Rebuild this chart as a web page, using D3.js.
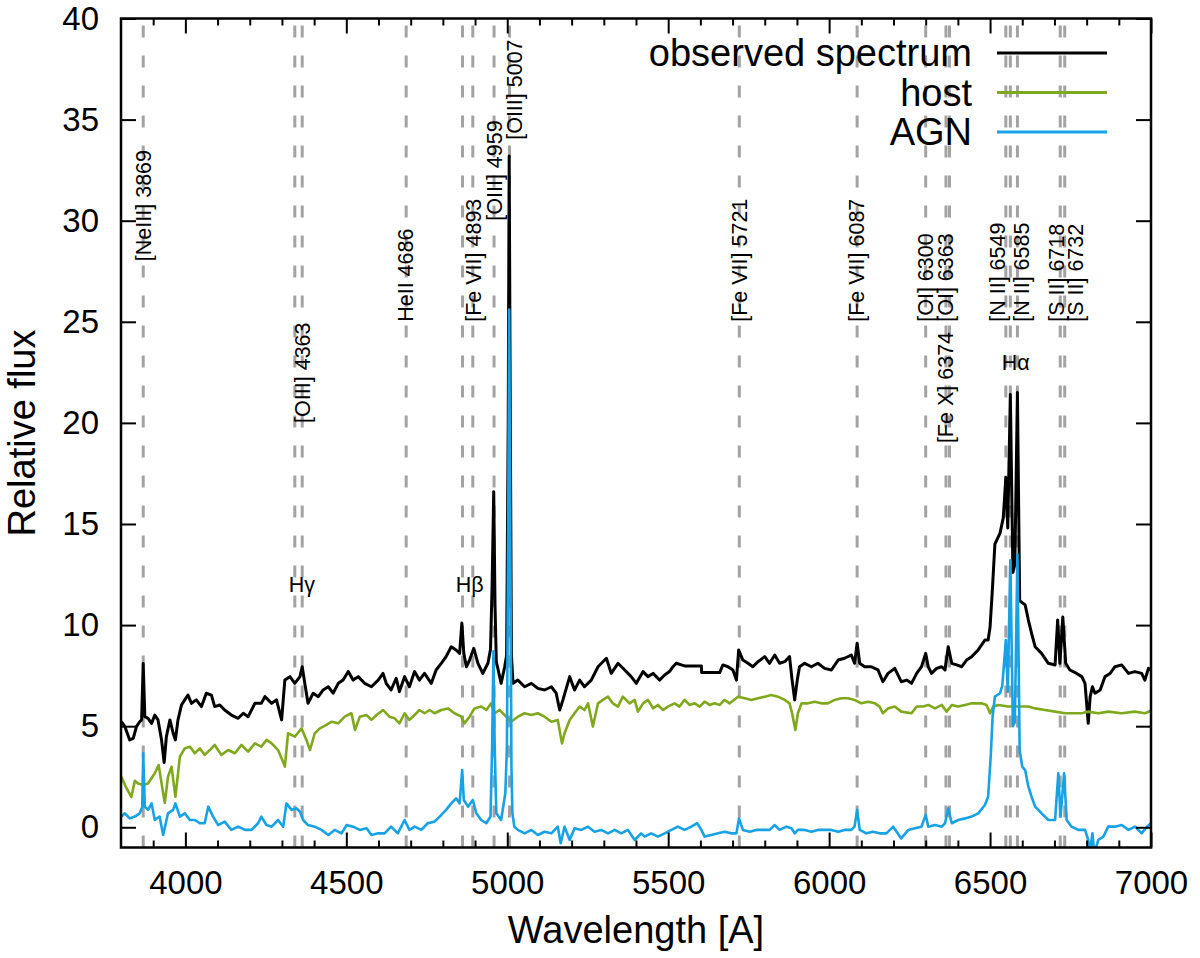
<!DOCTYPE html>
<meta charset="utf-8">

<style>

body {
  margin: 0;
  background: #fff;
}

text {
  font-family: "Liberation Sans", Arial, Helvetica, sans-serif;
}

.axis line {
  stroke: black;
  stroke-width: 2px;
}

.axis path {
  display: none;
}

.axis text {
  font-size: 33px;
  fill: black;
}

.marker {
  stroke: #a3a3a3;
  stroke-width: 3px;
  stroke-dasharray: 12,18;
}

.spec {
  fill: none;
  stroke-linejoin: round;
}

.linelabel {
  font-size: 21.5px;
}

</style>

<body>

<!-- load the d3.js library -->
<script src="https://d3js.org/d3.v7.min.js"></script>

<script>

// spectra: [wavelength (A), relative flux]
var obsSpectrum = [
  [3801,5.22],[3812,4.98],[3827,4.32],[3838,4.40],[3848,4.98],[3858,5.22],[3864,5.31],[3869,8.1],[3874,5.47],
  [3884,5.39],[3895,5.14],[3905,5.55],[3915,5.31],[3926,4.32],[3934,3.2],[3941,4.48],[3952,5.31],[3962,4.65],
  [3969,4.32],[3977,5.31],[3988,6.05],[3998,6.30],[4008,6.54],[4019,6.13],[4034,6.30],[4050,5.97],[4065,6.63],
  [4081,6.54],[4091,5.97],[4107,6.05],[4122,5.80],[4143,5.55],[4164,5.39],[4180,5.64],[4195,5.47],[4216,6.13],
  [4236,6.13],[4247,6.46],[4268,6.13],[4283,6.30],[4299,5.31],[4309,7.28],[4325,7.45],[4340,7.12],[4356,7.45],
  [4363,7.94],[4371,7.12],[4381,6.13],[4397,6.63],[4413,6.46],[4428,6.79],[4444,6.95],[4459,6.63],[4475,7.12],
  [4490,7.28],[4506,7.70],[4521,7.28],[4537,7.45],[4557,7.12],[4578,6.95],[4599,7.28],[4614,7.61],[4624,7.12],
  [4639,6.79],[4655,7.37],[4665,6.71],[4681,7.45],[4696,6.95],[4712,7.70],[4727,7.28],[4743,7.61],[4764,7.12],
  [4779,7.78],[4795,8.11],[4810,8.44],[4826,8.93],[4841,8.77],[4852,8.60],[4859,10.1],[4865,8.60],[4873,7.94],
  [4883,8.27],[4896,8.85],[4909,8.11],[4924,7.61],[4940,8.11],[4948,8.8],[4953,12],[4958,16.6],[4962,11],
  [4966,8.2],[4981,7.12],[4992,7.94],[4998,8.5],[5003,20],[5006,33.2],[5009,22],[5013,8.5],[5018,7.12],
  [5033,7.28],[5054,6.95],[5075,7.12],[5095,6.87],[5116,6.79],[5137,6.95],[5152,6.63],[5163,5.80],[5173,6.30],
  [5194,7.45],[5209,6.79],[5225,7.28],[5240,6.95],[5261,7.28],[5282,7.94],[5308,8.36],[5323,7.61],[5344,8.11],
  [5365,7.78],[5385,7.45],[5401,7.12],[5422,7.70],[5437,7.45],[5453,7.61],[5473,7.28],[5489,7.53],[5504,7.70],
  [5515,7.94],[5525,8.11],[5541,8.03],[5551,7.98],[5603,7.98],[5604,7.65],[5660,7.65],[5670,8.03],[5686,7.94],
  [5701,7.78],[5712,7.28],[5719,8.77],[5732,8.27],[5748,8.11],[5763,7.94],[5779,8.19],[5800,8.44],[5815,8.11],
  [5831,8.52],[5846,8.11],[5862,8.19],[5877,8.44],[5885,7.28],[5893,6.30],[5901,7.28],[5908,7.94],[5924,8.11],
  [5945,7.94],[5965,8.11],[5986,7.86],[6007,7.78],[6028,8.27],[6048,8.36],[6069,8.52],[6079,8.11],[6087,9.10],
  [6095,8.11],[6110,7.94],[6131,7.94],[6152,7.78],[6167,7.20],[6183,7.61],[6204,7.86],[6224,7.20],[6241,7.28],
  [6256,7.12],[6272,7.61],[6287,7.94],[6300,8.60],[6308,7.94],[6318,7.61],[6334,7.86],[6350,7.94],[6360,7.78],
  [6370,8.93],[6381,8.11],[6396,8.03],[6412,7.94],[6427,8.27],[6443,8.44],[6463,8.77],[6484,9.26],[6494,9.26],
  [6500,9.9],[6507,11.7],[6515,14.0],[6531,14.55],[6541,15.3],[6549,17.3],[6555,14.8],[6563,21.4],[6571,12.6],
  [6577,13.0],[6585,21.5],[6592,11.2],[6609,11.0],[6619,10.25],[6629,9.59],[6640,8.93],[6660,8.60],[6681,8.11],
  [6702,8.03],[6710,10.25],[6717,8.11],[6726,10.4],[6735,8.11],[6748,7.78],[6769,7.61],[6785,7.45],[6795,7.12],
  [6805,5.14],[6811,6.46],[6818,6.95],[6826,6.63],[6842,6.79],[6857,7.45],[6873,7.61],[6888,7.94],[6909,8.03],
  [6930,7.61],[6950,7.70],[6971,7.61],[6981,7.28],[6992,7.86],[7000,7.78]
];

var hostSpectrum = [
  [3801,2.5],[3815,2.0],[3832,1.5],[3843,2.3],[3853,2.17],[3869,2.09],[3884,2.17],[3905,2.67],[3917,3.08],
  [3926,2.17],[3936,1.2],[3946,2.5],[3957,3.0],[3969,1.51],[3983,3.49],[3998,3.90],[4014,3.99],[4029,3.66],
  [4045,3.90],[4060,3.58],[4076,3.82],[4091,4.07],[4112,3.58],[4133,3.82],[4154,3.66],[4174,4.07],[4195,3.74],
  [4216,4.15],[4236,3.99],[4252,4.32],[4268,4.15],[4288,3.82],[4301,3.33],[4309,3.00],[4319,4.65],[4340,4.48],
  [4361,4.89],[4376,4.32],[4387,3.82],[4402,4.65],[4418,4.89],[4438,5.06],[4454,5.22],[4475,5.14],[4495,5.47],
  [4516,5.64],[4527,4.81],[4542,5.47],[4563,5.55],[4578,5.31],[4594,5.55],[4614,5.80],[4619,5.72],[4634,5.47],
  [4650,5.39],[4665,5.14],[4681,5.64],[4696,5.31],[4712,5.55],[4727,5.80],[4743,5.64],[4759,5.80],[4774,5.64],
  [4795,5.80],[4816,5.88],[4836,5.64],[4857,5.47],[4867,5.14],[4883,5.47],[4898,5.88],[4919,5.97],[4935,5.80],
  [4950,6.13],[4961,5.64],[4976,5.80],[4992,5.55],[5012,5.22],[5033,5.47],[5054,5.64],[5075,5.55],[5095,5.64],
  [5116,5.47],[5137,5.22],[5157,5.31],[5170,4.15],[5178,4.65],[5194,5.31],[5209,5.64],[5225,5.97],[5240,5.80],
  [5251,6.13],[5266,4.98],[5282,6.13],[5297,6.30],[5313,6.46],[5328,6.13],[5344,5.97],[5359,6.46],[5380,6.13],
  [5396,6.30],[5406,5.72],[5422,6.13],[5437,6.30],[5453,5.88],[5468,6.05],[5484,5.80],[5499,5.97],[5520,6.13],
  [5535,5.97],[5551,6.30],[5567,6.05],[5582,6.13],[5598,5.97],[5613,6.21],[5629,6.05],[5644,6.13],[5660,6.05],
  [5675,6.30],[5691,6.13],[5717,6.46],[5738,6.38],[5758,6.30],[5779,6.38],[5800,6.46],[5820,6.54],[5841,6.46],
  [5862,6.30],[5877,6.13],[5885,5.64],[5895,4.81],[5903,5.64],[5914,6.13],[5934,6.13],[5955,6.21],[5976,6.13],
  [5996,6.13],[6017,6.30],[6038,6.38],[6059,6.38],[6079,6.30],[6100,6.13],[6121,6.21],[6142,6.13],[6157,5.97],
  [6167,5.64],[6183,5.88],[6204,5.97],[6224,5.72],[6256,5.64],[6272,5.97],[6292,5.97],[6308,6.05],[6329,5.88],
  [6350,6.05],[6365,5.72],[6381,6.05],[6401,5.97],[6422,6.05],[6443,6.13],[6474,6.13],[6489,6.05],[6500,5.64],
  [6510,5.97],[6526,6.05],[6557,5.97],[6588,5.97],[6619,5.97],[6640,5.88],[6671,5.80],[6702,5.72],[6733,5.64],
  [6764,5.64],[6785,5.64],[6805,5.72],[6836,5.64],[6867,5.72],[6909,5.64],[6950,5.72],[6981,5.64],[7000,5.76]
];

var agnSpectrum = [
  [3801,0.53],[3812,0.69],[3827,0.44],[3843,0.53],[3858,0.69],[3866,1.0],[3869,3.66],[3874,1.02],[3884,0.86],
  [3895,1.18],[3905,0.36],[3920,0.53],[3931,-0.38],[3946,0.69],[3962,0.86],[3969,1.18],[3983,0.53],[3998,0.69],
  [4014,0.36],[4029,0.36],[4045,0.20],[4060,0.20],[4071,1.02],[4086,0.53],[4102,0.11],[4122,0.28],[4143,-0.13],
  [4164,0.03],[4185,-0.13],[4205,-0.13],[4226,0.20],[4236,0.53],[4252,0.11],[4268,0.03],[4288,0.36],[4304,0.03],
  [4314,1.18],[4330,0.86],[4345,0.94],[4356,0.77],[4366,0.36],[4381,0.11],[4402,0.03],[4423,-0.13],[4444,-0.38],
  [4464,-0.13],[4485,-0.30],[4501,0.11],[4521,0.03],[4542,-0.13],[4563,-0.05],[4578,-0.38],[4599,-0.30],
  [4619,-0.30],[4639,0.03],[4660,-0.30],[4681,0.36],[4696,-0.13],[4712,0.03],[4733,-0.13],[4753,0.20],
  [4774,0.28],[4790,0.53],[4810,0.86],[4826,1.18],[4841,1.43],[4852,1.18],[4860,2.83],[4865,1.35],[4878,1.02],
  [4893,1.35],[4904,0.69],[4919,0.36],[4935,0.20],[4948,0.53],[4953,4],[4957,8.7],[4961,4],[4966,0.69],
  [4981,0.36],[4994,1.68],[4999,4],[5003,15],[5006,25.6],[5009,16],[5013,3],[5016,0.69],[5022,0.03],
  [5033,-0.13],[5054,-0.30],[5075,-0.13],[5095,-0.38],[5116,-0.22],[5137,-0.30],[5157,0.03],[5166,-0.79],
  [5178,0.03],[5194,-0.63],[5209,-0.05],[5230,-0.13],[5251,0.03],[5271,-0.22],[5292,-0.13],[5313,-0.30],
  [5334,-0.13],[5354,-0.30],[5375,-0.13],[5396,-0.63],[5416,-0.30],[5427,-0.46],[5447,-0.30],[5468,-0.46],
  [5489,-0.30],[5510,-0.13],[5530,0.03],[5551,-0.13],[5572,0.03],[5590,0.20],[5603,-0.13],[5613,-0.46],
  [5634,-0.38],[5655,-0.30],[5675,-0.22],[5696,-0.30],[5712,-0.30],[5720,0.44],[5732,-0.13],[5753,-0.22],
  [5774,-0.13],[5794,-0.13],[5815,-0.13],[5831,0.11],[5846,-0.13],[5867,0.03],[5883,-0.05],[5893,-0.30],
  [5903,-0.13],[5924,-0.13],[5945,-0.22],[5965,-0.13],[5986,-0.13],[6007,-0.13],[6028,-0.22],[6048,-0.13],
  [6069,-0.13],[6079,0.03],[6087,0.86],[6095,-0.13],[6116,-0.30],[6136,-0.22],[6157,-0.30],[6178,-0.30],
  [6199,0.03],[6224,-0.55],[6246,-0.13],[6267,-0.05],[6287,0.03],[6300,0.61],[6308,0.03],[6329,0.11],
  [6350,0.03],[6360,0.20],[6370,0.94],[6381,0.20],[6401,0.36],[6422,0.44],[6443,0.53],[6463,0.69],[6484,1.10],
  [6494,1.51],[6502,3.5],[6508,5.5],[6515,6.46],[6531,6.63],[6538,7.0],[6549,9.26],[6555,6.7],[6563,13.2],
  [6571,5.0],[6577,5.2],[6585,13.5],[6592,3.8],[6600,3.0],[6609,2.83],[6619,2.01],[6629,1.51],[6640,1.02],
  [6660,0.69],[6681,0.36],[6702,0.36],[6712,2.67],[6719,0.53],[6730,2.67],[6738,0.36],[6753,0.03],[6774,-0.13],
  [6795,-0.13],[6805,-0.63],[6810,-1.29],[6818,-0.30],[6824,-1.29],[6836,-0.63],[6852,-0.46],[6867,0.03],
  [6888,0.03],[6909,0.11],[6930,-0.13],[6950,0.03],[6971,-0.30],[6987,0.03],[7000,0.20]
];

// emission lines marked with dashed lines
var lineWavelengths = [3869, 4340, 4363, 4686, 4861, 4893, 4959, 5007, 5721, 6087,
                       6300, 6363, 6374, 6549, 6563, 6585, 6718, 6732];

// rotated line labels: text, wavelength, flux where the text starts
var labelTexts = ["[NeIII] 3869", "[OIII] 4363", "HeII 4686", "[Fe VII] 4893", "[OIII] 4959",
                  "[OIII] 5007", "[Fe VII] 5721", "[Fe VII] 6087", "[OI] 6300", "[OI] 6363",
                  "[Fe X] 6374", "[N II] 6549", "[N II] 6585", "[S II] 6718", "[S II] 6732"];
var labelWave = [3869, 4363, 4685, 4894, 4961, 5021, 5720, 6086, 6298, 6360, 6362, 6524, 6599, 6705, 6764];
var labelFlux = [28, 20, 25, 25, 30, 34, 25, 25, 25, 25, 19, 25, 25, 25, 25];

// horizontal labels for the Balmer lines
var balmerTexts = ["H\u03b3", "H\u03b2", "H\u03b1"];
var balmerWave = [4362, 4883, 6580];
var balmerFlux = [11.65, 11.65, 22.6];

var seriesNames = ["observed spectrum", "host", "AGN"];
var seriesColors = ["#000000", "#80a81c", "#16a2e5"];

var xTicks = [4000, 4500, 5000, 5500, 6000, 6500, 7000];
var xMinorTicks = [3900, 4100, 4200, 4300, 4400, 4600, 4700, 4800, 4900, 5100, 5200, 5300, 5400,
                   5600, 5700, 5800, 5900, 6100, 6200, 6300, 6400, 6600, 6700, 6800, 6900];
var yTicks = [0, 5, 10, 15, 20, 25, 30, 35, 40];

var width = 1200, height = 958;
var margin = {top: 18.5, right: 49, bottom: 110.5, left: 121};

// set the ranges
var x = d3.scaleLinear().domain([3800, 7000]).range([margin.left, width - margin.right]);
var y = d3.scaleLinear().domain([-1, 40]).range([height - margin.bottom, margin.top]);

var svg = d3.select("body").append("svg")
    .attr("width", width)
    .attr("height", height);

svg.append("clipPath")
    .attr("id", "plotclip")
  .append("rect")
    .attr("x", x(3800))
    .attr("y", y(40))
    .attr("width", x(7000) - x(3800))
    .attr("height", y(-1) - y(40));

// dashed emission line markers, behind the data
svg.append("g")
  .selectAll("line")
  .data(lineWavelengths)
  .enter()
  .append("line")
    .attr("class", "marker")
    .attr("x1", function (d) { return x(d); })
    .attr("x2", function (d) { return x(d); })
    .attr("y1", y(-1))
    .attr("y2", y(40));

// the three spectra
var line = d3.line()
    .x(function (d) { return x(d[0]); })
    .y(function (d) { return y(d[1]); });

var spectra = [obsSpectrum, hostSpectrum, agnSpectrum];
var widths = [3, 2.6, 2.6];

svg.append("g")
    .attr("clip-path", "url(#plotclip)")
  .selectAll("path")
  .data(spectra)
  .enter()
  .append("path")
    .attr("class", "spec")
    .attr("d", line)
    .style("stroke", function (d, i) { return seriesColors[i]; })
    .style("stroke-width", function (d, i) { return widths[i]; });

// axes, ticks pointing into the plot
svg.append("g")
    .attr("class", "axis")
    .attr("transform", "translate(0," + y(-1) + ")")
    .call(d3.axisBottom(x).tickValues(xTicks).tickSize(-15).tickPadding(23).tickFormat(d3.format("d")));

svg.append("g")
    .attr("class", "axis")
    .attr("transform", "translate(0," + y(-1) + ")")
    .call(d3.axisBottom(x).tickValues(xMinorTicks).tickSize(-7).tickFormat(""));

svg.append("g")
    .attr("class", "axis")
    .attr("transform", "translate(0," + y(40) + ")")
    .call(d3.axisTop(x).tickValues(xTicks).tickSize(-15).tickFormat(""));

svg.append("g")
    .attr("class", "axis")
    .attr("transform", "translate(0," + y(40) + ")")
    .call(d3.axisTop(x).tickValues(xMinorTicks).tickSize(-7).tickFormat(""));

svg.append("g")
    .attr("class", "axis")
    .attr("transform", "translate(" + x(3800) + ",0)")
    .call(d3.axisLeft(y).tickValues(yTicks).tickSize(-15).tickPadding(22));

svg.append("g")
    .attr("class", "axis")
    .attr("transform", "translate(" + x(7000) + ",0)")
    .call(d3.axisRight(y).tickValues(yTicks).tickSize(-15).tickFormat(""));

// plot frame
svg.append("rect")
    .attr("x", x(3800))
    .attr("y", y(40))
    .attr("width", x(7000) - x(3800))
    .attr("height", y(-1) - y(40))
    .style("fill", "none")
    .style("stroke", "black")
    .style("stroke-width", 2.5);

// line labels
svg.append("g")
  .selectAll("text")
  .data(labelTexts)
  .enter()
  .append("text")
    .attr("class", "linelabel")
    .attr("transform", function (d, i) {
      return "translate(" + x(labelWave[i]) + "," + y(labelFlux[i]) + ") rotate(-90)";
    })
    .attr("dy", "0.35em")
    .text(function (d) { return d; });

svg.append("g")
  .selectAll("text")
  .data(balmerTexts)
  .enter()
  .append("text")
    .attr("class", "linelabel")
    .attr("text-anchor", "middle")
    .attr("x", function (d, i) { return x(balmerWave[i]); })
    .attr("y", function (d, i) { return y(balmerFlux[i]); })
    .text(function (d) { return d; });

// legend
var legend = svg.append("g")
  .selectAll("g")
  .data(seriesNames)
  .enter()
  .append("g")
    .attr("transform", function (d, i) { return "translate(0," + (53 + i * 39.5) + ")"; });

legend.append("text")
    .attr("x", 972)
    .attr("dy", "0.35em")
    .attr("text-anchor", "end")
    .style("font-size", "38px")
    .text(function (d) { return d; });

legend.append("line")
    .attr("x1", 997)
    .attr("x2", 1107)
    .style("stroke", function (d, i) { return seriesColors[i]; })
    .style("stroke-width", 3);

// axis titles
svg.append("text")
    .attr("text-anchor", "middle")
    .attr("x", (x(3800) + x(7000)) / 2)
    .attr("y", 943)
    .style("font-size", "38px")
    .text("Wavelength [A]");

svg.append("text")
    .attr("text-anchor", "middle")
    .attr("transform", "translate(35," + (y(-1) + y(40)) / 2 + ") rotate(-90)")
    .style("font-size", "38px")
    .text("Relative flux");

</script>
</body>
